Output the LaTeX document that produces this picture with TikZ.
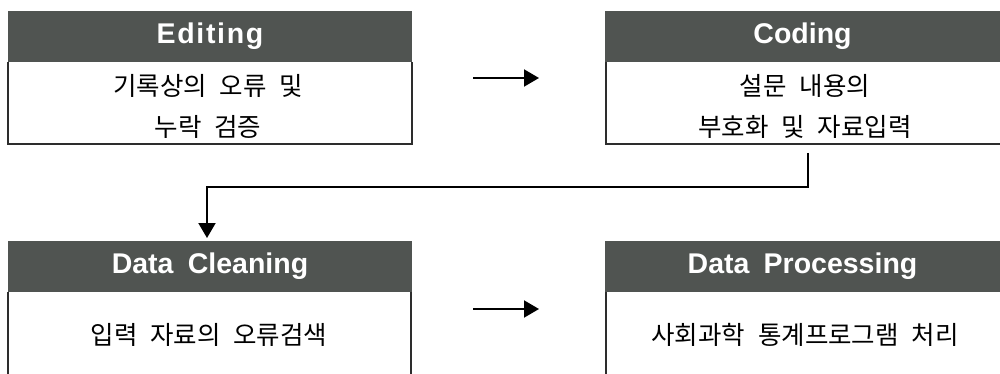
\documentclass[tikz,border=0pt]{standalone}
\usepackage{fontspec}
\setmainfont{Liberation Sans}
\newfontfamily\kr{Noto Sans CJK KR}
\usetikzlibrary{arrows.meta}
\definecolor{headgray}{RGB}{80,84,81}
\definecolor{edgegray}{RGB}{45,45,45}
\newcommand{\wsp}{\hspace{0.5em}}

\begin{document}
\begin{tikzpicture}[x=1pt,y=-1pt,
	head/.style={fill=headgray, text=white, inner sep=0pt, minimum height=51pt, font=\fontsize{28.5}{30}\selectfont\bfseries},
	body/.style={align=center, inner sep=0pt, font=\kr\fontsize{25.5}{41}\selectfont},
	edge/.style={edgegray, line width=1.5pt},
	pile/.style={line width=2pt, -{Triangle[length=15pt,width=17pt]}}]

	\useasboundingbox (0,0) rectangle (1000,374);

	% Headers
	\node[head, minimum width=404pt] (edit) at (210,36.5) {\addfontfeature{LetterSpace=6}Editing};
	\node[head, minimum width=395pt] (code) at (802.5,36.5) {Coding};
	\node[head, minimum width=404pt] (clean) at (210,266) {Data\wsp Cleaning};
	\node[head, minimum width=395pt] (proc) at (802.5,266) {Data\wsp Processing};

	% Box edges
	\draw[edge] (8,62) -- (8,144) -- (412,144) -- (412,62);
	\draw[edge] (606,62) -- (606,144) -- (1000,144);
	\draw[edge] (8,292) -- (8,374);
	\draw[edge] (411,292) -- (411,374);
	\draw[edge] (606,292) -- (606,374);

	% Texts
	\node[body] (edittxt) at (208,106) {기록상의\wsp 오류\wsp 및\\누락\wsp 검증};
	\node[body] (codetxt) at (805,106) {설문\wsp 내용의\\부호화\wsp 및\wsp 자료입력};
	\node[body] (cleantxt) at (209,335) {입력\wsp 자료의\wsp 오류검색};
	\node[body] (proctxt) at (805,335) {사회과학\wsp 통계프로그램\wsp 처리};

	% Arrows
	\coordinate (a1) at (473,78);
	\coordinate (b1) at (539,78);
	\coordinate (a2) at (473,309);
	\coordinate (b2) at (539,309);
	\coordinate (c1) at (808,153);
	\coordinate (c2) at (207,238);

	\draw[pile] (a1) -- (b1);
	\draw[pile] (a2) -- (b2);
	\draw[pile] (c1) -- (c1 |- 0,187) -- (c2 |- 0,187) -- (c2);

\end{tikzpicture}
\end{document}
